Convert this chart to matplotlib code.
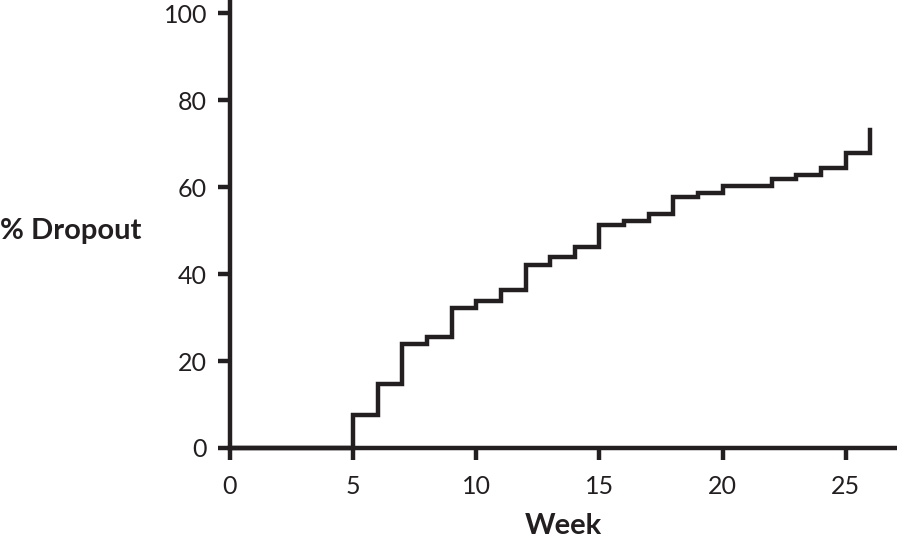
import matplotlib.pyplot as plt

plt.rcParams['font.family'] = ['Lato', 'DejaVu Sans']

# step data (week at which each level starts)
weeks = [0, 5, 6, 7, 8, 9, 10, 11, 12, 13, 14, 15, 16, 17, 18, 19, 20, 22, 23, 24, 25, 26]
dropout = [0, 7.5, 14.8, 23.9, 25.5, 32.2, 33.8, 36.3, 42.1, 43.8, 46.2, 51.3, 52.2,
           53.8, 57.7, 58.7, 60.2, 61.8, 62.8, 64.4, 67.8, 73.1]
x_ticks = [0, 5, 10, 15, 20, 25]
y_ticks = [0, 20, 40, 60, 80, 100]

fig = plt.figure(figsize=(8.97, 5.45), dpi=100)
ax = fig.add_axes([0.2564, 0.178, 0.744, 0.818])

ax.step(weeks, dropout, where='post', color='#231f20', linewidth=3.2,
        solid_joinstyle='miter', clip_on=False)

ax.set_xlim(0, 27.1)
ax.set_ylim(0, 102.5)
ax.set_xticks(x_ticks)
ax.set_yticks(y_ticks)

for side in ['top', 'right']:
    ax.spines[side].set_visible(False)
for side in ['left', 'bottom']:
    ax.spines[side].set_linewidth(3.2)
    ax.spines[side].set_color('#231f20')

ax.tick_params(axis='both', width=3.2, length=8.5, color='#231f20',
               labelsize=18, labelcolor='#231f20')
ax.tick_params(axis='y', pad=8)
ax.tick_params(axis='x', pad=11)

ax.set_xlabel('Week', fontsize=21, fontweight='bold', color='#231f20', labelpad=11)
fig.text(0.0, 0.577, '% Dropout', fontsize=21, fontweight='bold',
         color='#231f20', ha='left', va='center')

fig.savefig('out.png', dpi=100)
